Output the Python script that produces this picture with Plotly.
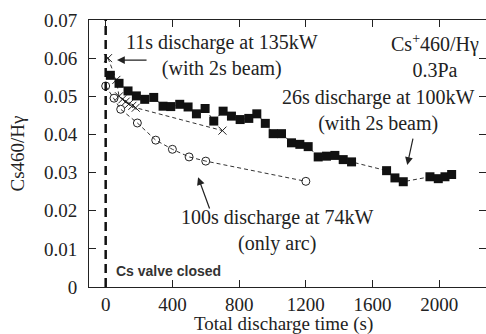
import plotly.graph_objects as go

# Filled squares: 26s discharge at 100kW (with 2s beam)
sq_x = [28, 80, 134, 184, 234, 288, 344, 390, 444, 494, 544, 596, 648, 704, 754, 806,
        858, 906, 957, 1004, 1054, 1114, 1164, 1214, 1274, 1324, 1374, 1424, 1474,
        1684, 1734, 1784, 1944, 1994, 2034, 2074]
sq_y = [0.0555, 0.0534, 0.0514, 0.0501, 0.0492, 0.0497, 0.0474, 0.0473, 0.0479, 0.0472,
        0.0454, 0.0468, 0.0435, 0.0461, 0.0448, 0.0439, 0.0442, 0.0454, 0.0429, 0.0402,
        0.0402, 0.0378, 0.0374, 0.0368, 0.0341, 0.0343, 0.0345, 0.0334, 0.0328,
        0.0305, 0.0286, 0.0276, 0.0289, 0.0284, 0.0289, 0.0295]

# Crosses: 11s discharge at 135kW (with 2s beam)
cr_x = [14, 64, 80, 100, 120, 140, 160, 180, 700]
cr_y = [0.0600, 0.0543, 0.0500, 0.0492, 0.0486, 0.0480, 0.0475, 0.0470, 0.0410]

# Open circles: 100s discharge at 74kW (only arc)
ci_x = [0, 50, 90, 190, 300, 400, 500, 600, 1200]
ci_y = [0.0527, 0.0495, 0.0466, 0.0430, 0.0385, 0.0361, 0.0341, 0.0330, 0.0277]

x_ticks = [0, 400, 800, 1200, 1600, 2000]
y_ticks = [0, 0.01, 0.02, 0.03, 0.04, 0.05, 0.06, 0.07]
y_tick_text = ["0", "0.01", "0.02", "0.03", "0.04", "0.05", "0.06", "0.07"]

SERIF = "Liberation Serif"
FS = 19
INK = "#222222"

fig = go.Figure()
line_style = dict(color="#333333", width=1, dash="4px,3px")

fig.add_trace(go.Scatter(x=ci_x, y=ci_y, mode="lines+markers", line=line_style,
                         marker=dict(symbol="circle-open", size=8, color=INK,
                                     line=dict(width=1))))
fig.add_trace(go.Scatter(x=cr_x, y=cr_y, mode="lines+markers", line=line_style,
                         marker=dict(symbol="x-thin-open", size=8, color=INK,
                                     line=dict(width=1))))
fig.add_trace(go.Scatter(x=sq_x, y=sq_y, mode="lines+markers", line=line_style,
                         marker=dict(symbol="square", size=9, color="#111111")))

# Cs valve closed marker line at t=0
fig.add_shape(type="line", xref="x", yref="y", x0=0, x1=0, y0=0, y1=0.07,
              line=dict(color="#111111", width=2.5, dash="9px,5px"))

def afont():
    return dict(family=SERIF, size=FS + 1, color=INK)

fig.add_annotation(x=698, y=0.0606, xref="x", yref="y", showarrow=False,
                   text="11s discharge at 135kW<br>(with 2s beam)", font=afont())
fig.add_annotation(x=68, y=0.0595, ax=254, ay=0.0595, xref="x", yref="y",
                   axref="x", ayref="y", text="", showarrow=True,
                   arrowhead=2, arrowsize=1.3, arrowwidth=1.2, arrowcolor=INK)
fig.add_annotation(x=1976, y=0.0606, xref="x", yref="y", showarrow=False,
                   text="Cs<sup>+</sup>460/Hγ<br>0.3Pa", font=afont())
fig.add_annotation(x=1634, y=0.0464, xref="x", yref="y", showarrow=False,
                   text="26s discharge at 100kW<br>(with 2s beam)", font=afont())
fig.add_annotation(x=1808, y=0.0320, ax=1844, ay=0.0393, xref="x", yref="y",
                   axref="x", ayref="y", text="", showarrow=True,
                   arrowhead=2, arrowsize=1.3, arrowwidth=1.2, arrowcolor=INK)
fig.add_annotation(x=1028, y=0.0147, xref="x", yref="y", showarrow=False,
                   text="100s discharge at 74kW<br>(only arc)", font=afont())
fig.add_annotation(x=554, y=0.0288, ax=626, ay=0.0202, xref="x", yref="y",
                   axref="x", ayref="y", text="", showarrow=True,
                   arrowhead=2, arrowsize=1.3, arrowwidth=1.2, arrowcolor=INK)
fig.add_annotation(x=50, y=0.0042, xref="x", yref="y", showarrow=False, xanchor="left",
                   text="<b>Cs valve closed</b>",
                   font=dict(family="Liberation Sans", size=14, color="#333333"))
# x-axis title
fig.add_annotation(x=0.49, y=-0.138, xref="paper", yref="paper", showarrow=False,
                   yanchor="middle", text="Total discharge time (s)",
                   font=dict(family=SERIF, size=FS, color=INK))

axis_common = dict(showline=True, linecolor=INK, linewidth=1, mirror="ticks",
                   ticks="inside", ticklen=7, tickcolor=INK, showgrid=False,
                   zeroline=False, tickfont=dict(family=SERIF, size=FS, color=INK))

fig.update_layout(
    width=486, height=334,
    margin=dict(l=89, r=0, t=20, b=47),
    paper_bgcolor="white", plot_bgcolor="white",
    showlegend=False,
    font=dict(family=SERIF, size=FS, color=INK),
    xaxis=dict(range=[-100, 2280], tickvals=x_ticks, ticklabelstandoff=0,
               **axis_common),
    yaxis=dict(range=[0, 0.07], tickvals=y_ticks, ticktext=y_tick_text,
               ticklabelstandoff=7,
               title=dict(text="Cs460/Hγ", standoff=14,
                          font=dict(family=SERIF, size=FS, color=INK)),
               **axis_common),
)

fig.write_html("out.html",
               config={"displayModeBar": False},
               post_script="document.body.style.margin='0';"
                           "document.body.style.overflow='hidden';")
